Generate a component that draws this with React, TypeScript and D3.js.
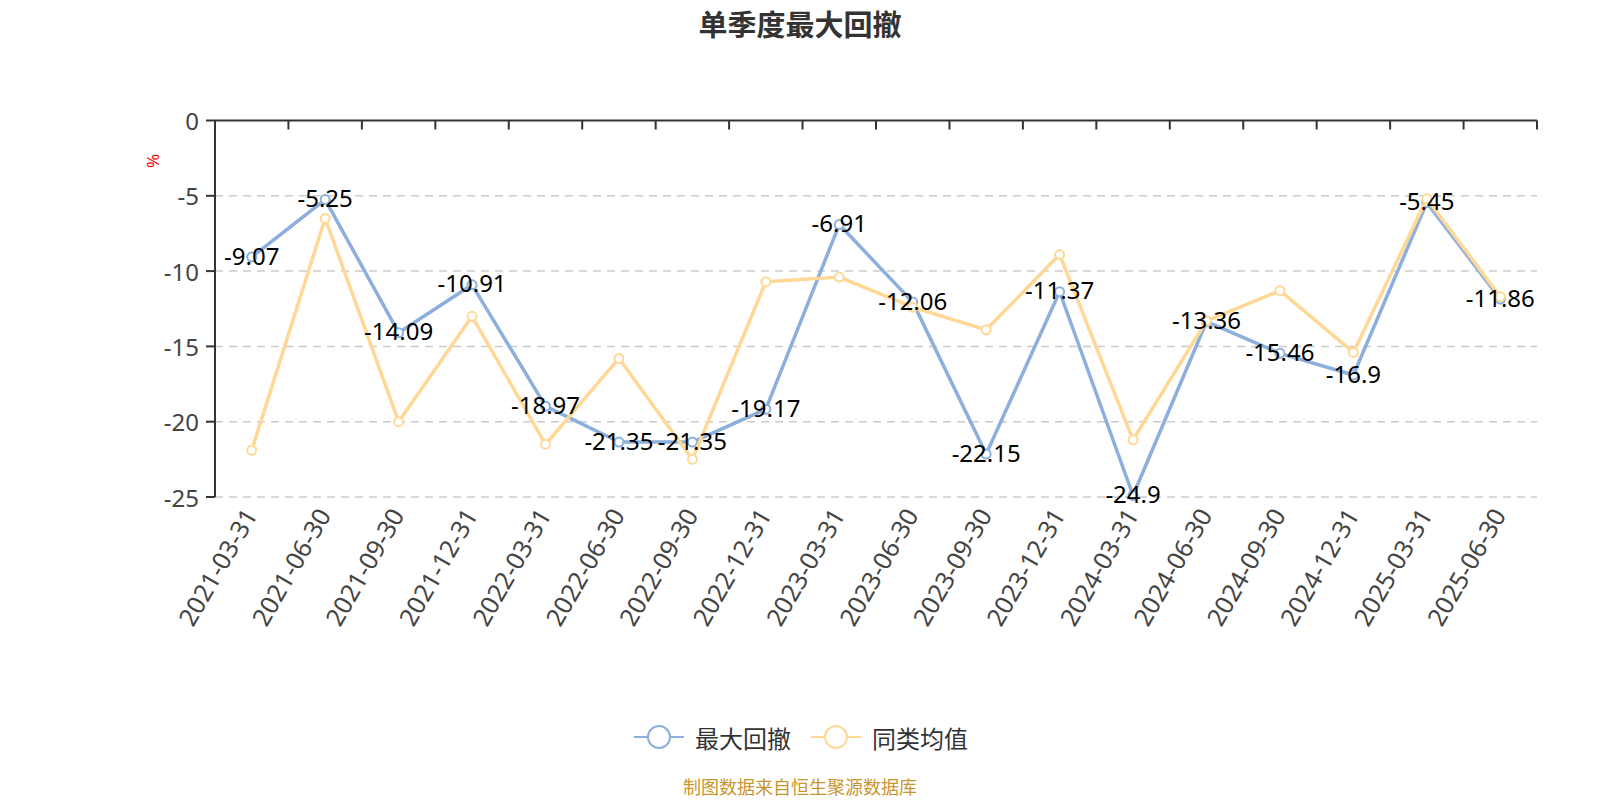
import React from 'react';
import * as d3 from 'd3';

const categories = [
  '2021-03-31', '2021-06-30', '2021-09-30', '2021-12-31',
  '2022-03-31', '2022-06-30', '2022-09-30', '2022-12-31',
  '2023-03-31', '2023-06-30', '2023-09-30', '2023-12-31',
  '2024-03-31', '2024-06-30', '2024-09-30', '2024-12-31',
  '2025-03-31', '2025-06-30',
];
const drawdown = [-9.07, -5.25, -14.09, -10.91, -18.97, -21.35, -21.35, -19.17, -6.91, -12.06, -22.15, -11.37, -24.9, -13.36, -15.46, -16.9, -5.45, -11.86];
const peerAvg = [-21.9, -6.5, -20.0, -13.0, -21.5, -15.8, -22.5, -10.7, -10.4, -12.4, -13.9, -8.9, -21.2, -13.3, -11.3, -15.4, -5.2, -11.7];
const yTicks = [0, -5, -10, -15, -20, -25];
const seriesNames = ['最大回撤', '同类均值'];
const titleText = '单季度最大回撤';
const sourceText = '制图数据来自恒生聚源数据库';
const unitText = '%';

const BLUE = '#8CAFDD';
const YELLOW = '#FFD895';
const FONT = '"Noto Sans", "Noto Sans CJK SC", sans-serif';
const CJK = '"Noto Sans CJK SC", "Noto Sans", sans-serif';

export default function App() {
  const left = 215, right = 1537, top = 120.5, bottom = 497;
  const x = d3.scaleBand<string>().domain(categories).range([left, right]);
  const bw = x.bandwidth();
  const cx = (i: number) => (x(categories[i]) as number) + bw / 2;
  const y = d3.scaleLinear().domain([-25, 0]).range([bottom, top]);
  const line = d3.line<number>().x((_, i) => cx(i)).y((d) => y(d));

  const boundaries = d3.range(categories.length + 1).map((k) => left + k * bw);

  return (
    <svg width={1600} height={800} style={{ position: 'absolute', left: 0, top: 0, background: '#fff' }}>
      <text x={800} y={23} textAnchor="middle" dominantBaseline="central" fontFamily={CJK} fontWeight="bold" fontSize={29} fill="#333">{titleText}</text>

      {/* grid lines */}
      {yTicks.filter((t) => t !== 0).map((t) => (
        <line key={'g' + t} x1={left} x2={right} y1={y(t)} y2={y(t)} stroke="#ccc" strokeWidth={1.5} strokeDasharray="8,6" />
      ))}

      {/* y axis */}
      <line x1={left} x2={left} y1={y(0)} y2={y(-25)} stroke="#333" strokeWidth={2} />
      {yTicks.map((t) => (
        <g key={'yt' + t}>
          <line x1={left - 9} x2={left} y1={y(t)} y2={y(t)} stroke="#333" strokeWidth={2} />
          <text x={left - 16} y={y(t)} textAnchor="end" dominantBaseline="central" fontFamily={FONT} fontSize={24} fill="#444">{t}</text>
        </g>
      ))}
      <text transform={`translate(152,161) rotate(-90)`} textAnchor="middle" dominantBaseline="central" fontFamily={FONT} fontSize={17} fill="red">{unitText}</text>

      {/* x axis at zero */}
      <line x1={left} x2={right} y1={y(0)} y2={y(0)} stroke="#333" strokeWidth={2} />
      {boundaries.slice(1).map((b, k) => (
        <line key={'xt' + k} x1={b} x2={b} y1={y(0)} y2={y(0) + 9} stroke="#333" strokeWidth={2} />
      ))}
      {categories.map((c, i) => (
        <text key={c} transform={`translate(${cx(i) - 2},${bottom + 13}) rotate(-60)`} textAnchor="end" dominantBaseline="central" fontFamily={FONT} fontSize={25} fill="#444">{c}</text>
      ))}

      {/* series lines */}
      <path d={line(drawdown) || ''} fill="none" stroke={BLUE} strokeWidth={3.5} strokeLinejoin="round" />
      {drawdown.map((v, i) => (
        <circle key={'b' + i} cx={cx(i)} cy={y(v)} r={4.5} fill="#fff" stroke={BLUE} strokeWidth={2} />
      ))}
      <path d={line(peerAvg) || ''} fill="none" stroke={YELLOW} strokeWidth={3.5} strokeLinejoin="round" />
      {peerAvg.map((v, i) => (
        <circle key={'y' + i} cx={cx(i)} cy={y(v)} r={4.5} fill="#fff" stroke={YELLOW} strokeWidth={2} />
      ))}

      {/* data labels */}
      {drawdown.map((v, i) => (
        <text key={'l' + i} x={cx(i)} y={y(v) - 2} textAnchor="middle" dominantBaseline="central" fontFamily={FONT} fontSize={24} fill="#000">{v}</text>
      ))}

      {/* legend */}
      {seriesNames.map((name, k) => {
        const x0 = k === 0 ? 634 : 811;
        const color = k === 0 ? BLUE : YELLOW;
        return (
          <g key={name}>
            <line x1={x0} x2={x0 + 50} y1={737} y2={737} stroke={color} strokeWidth={2} />
            <circle cx={x0 + 25} cy={737} r={11} fill="#fff" stroke={color} strokeWidth={2} />
            <text x={x0 + 61} y={737} dominantBaseline="central" fontFamily={CJK} fontSize={24} fill="#333">{name}</text>
          </g>
        );
      })}

      <text x={800} y={786} textAnchor="middle" dominantBaseline="central" fontFamily={CJK} fontSize={18} fill="#C8962F">{sourceText}</text>
    </svg>
  );
}
